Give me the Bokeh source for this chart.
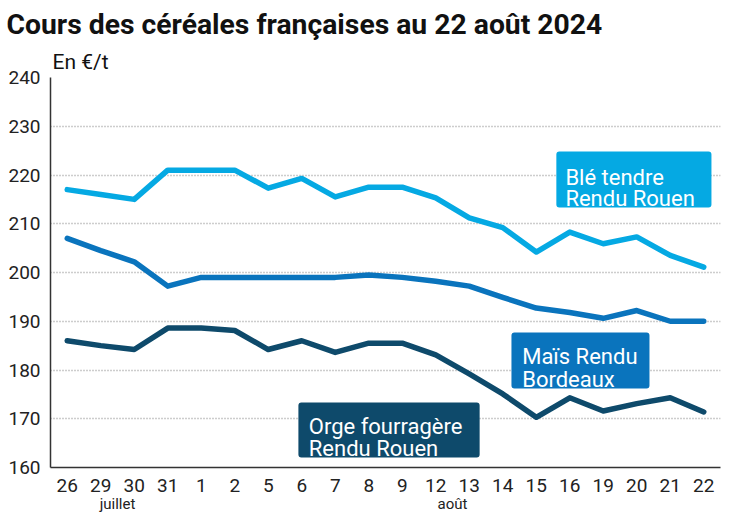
from bokeh.plotting import figure
from bokeh.layouts import column
from bokeh.models import FactorRange, Range1d, FixedTicker, Label, BoxAnnotation, Title
from bokeh.embed import file_html
from bokeh.resources import INLINE

days = ["26", "29", "30", "31", "1", "2", "5", "6", "7", "8", "9", "12", "13", "14",
        "15", "16", "19", "20", "21", "22"]
months = ["juillet", "août"]
month_pos = [2.0, 12.0]  # centre of each month's group of days (in day slots)
ble = [217, 216, 215, 221, 221, 221, 217.3, 219.3, 215.5, 217.5, 217.5, 215.3, 211.2,
       209.2, 204.2, 208.3, 205.9, 207.3, 203.5, 201.1]
mais = [207, 204.5, 202.2, 197.2, 199, 199, 199, 199, 199, 199.5, 199, 198.2, 197.2,
        194.9, 192.7, 191.8, 190.6, 192.2, 190, 190]
orge = [186, 185, 184.2, 188.6, 188.6, 188.1, 184.2, 186, 183.6, 185.5, 185.5, 183.1,
        179.2, 175.1, 170.3, 174.3, 171.6, 173.1, 174.3, 171.4]
y_ticks = [160, 170, 180, 190, 200, 210, 220, 230, 240]

C_BLE = "#05a9e3"
C_MAIS = "#0a74bd"
C_ORGE = "#0e4a6b"
FONT = "Roboto"

xr = FactorRange(*days, range_padding=0)
p = figure(width=747, height=496, x_range=xr, y_range=Range1d(160, 240),
           output_backend="svg", toolbar_location=None,
           min_border_left=50, min_border_right=27, min_border_top=77, min_border_bottom=29)
p.outline_line_color = None
p.background_fill_color = "white"

p.line(days, ble, line_color=C_BLE, line_width=5.5, line_join="round", line_cap="round")
p.line(days, mais, line_color=C_MAIS, line_width=5.5, line_join="round", line_cap="round")
p.line(days, orge, line_color=C_ORGE, line_width=5.5, line_join="round", line_cap="round")

p.xgrid.grid_line_color = None
p.ygrid.ticker = FixedTicker(ticks=y_ticks)
p.ygrid.grid_line_color = "#9a9a9a"
p.ygrid.grid_line_dash = "1 2"
p.ygrid.grid_line_width = 1.3
p.ygrid.level = "underlay"

p.yaxis.ticker = FixedTicker(ticks=y_ticks)
for ax in (p.xaxis[0], p.yaxis[0]):
    ax.axis_line_color = "#333333"
    ax.axis_line_width = 1.5
    ax.major_tick_line_color = None
    ax.minor_tick_line_color = None
    ax.major_tick_out = 0
    ax.major_tick_in = 0
    ax.major_label_text_font = FONT
    ax.major_label_text_font_size = "19px"
    ax.major_label_text_color = "#222222"
p.yaxis.major_label_standoff = 10
p.xaxis.major_label_standoff = 11

# Unit label and title (stacked above the frame)
p.add_layout(Title(text="En €/t", text_font=FONT, text_font_size="21px",
                   text_font_style="normal", text_color="#111111", align="left",
                   offset=2, standoff=7), "above")
p.add_layout(Title(text="Cours des céréales françaises au 22 août 2024", text_font=FONT,
                   text_font_size="28.3px", text_font_style="bold", text_color="#111111",
                   align="left", offset=-44, standoff=7), "above")

# Series labels
boxes = [
    (C_BLE, (15.10, 19.73, 224.82, 213.33), 15.37, (219.55, 215.12), ("Blé tendre", "Rendu Rouen")),
    (C_MAIS, (13.76, 17.88, 187.69, 176.21), 14.08, (182.77, 178.11), ("Maïs Rendu", "Bordeaux")),
    (C_ORGE, (7.40, 12.81, 173.33, 162.05), 7.71, (168.47, 163.83), ("Orge fourragère", "Rendu Rouen")),
]
for col, (l, r, t, b), tx, tys, lines in boxes:
    p.add_layout(BoxAnnotation(left=l, right=r, top=t, bottom=b, fill_color=col, fill_alpha=1,
                               line_color=None, border_radius=3, level="annotation"))
for col, (l, r, t, b), tx, tys, lines in boxes:
    for ty, s in zip(tys, lines):
        p.add_layout(Label(x=tx, y=ty, text=s, text_font=FONT, text_font_size="22px",
                           text_color="white", text_align="left", text_baseline="alphabetic",
                           level="overlay"))

# Strip below the chart carrying the month names
strip = figure(width=747, height=17, x_range=xr, y_range=Range1d(0, 17),
               output_backend="svg", toolbar_location=None,
               min_border=0, min_border_left=50, min_border_right=27)
strip.axis.visible = False
strip.grid.visible = False
strip.outline_line_color = None
for m, pos in zip(months, month_pos):
    strip.add_layout(Label(x=pos, y=1, text=m, text_font=FONT, text_font_size="15px",
                           text_color="#222222", text_align="center", text_baseline="bottom"))

layout = column(p, strip, spacing=0)
open("out.html", "w").write(file_html(layout, INLINE))
